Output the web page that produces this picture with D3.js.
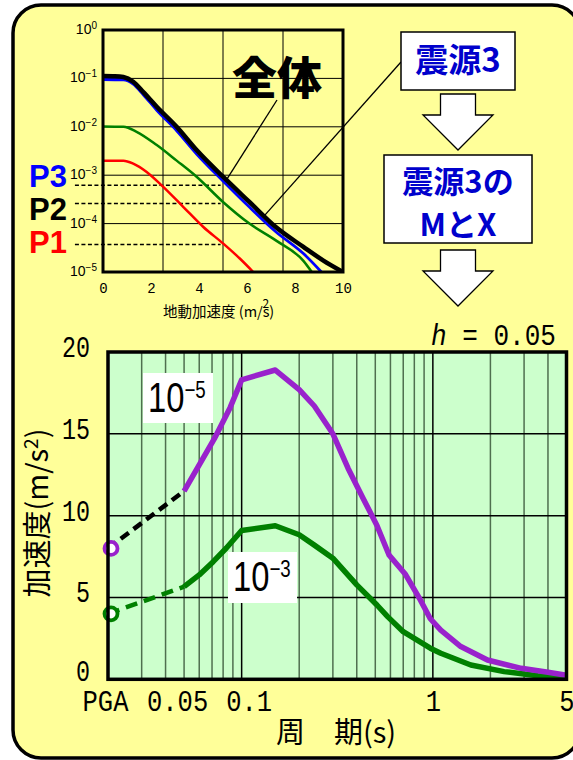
<!doctype html>
<html>
<head>
<meta charset="utf-8">
<style>
  body { margin: 0; background: #fff; }
  svg { display: block; }
  .mono { font-family: "Liberation Mono", "DejaVu Sans Mono", monospace; }
  .cjk { font-family: "Noto Sans CJK JP", sans-serif; }
  .arial { font-family: "Liberation Sans", Arial, sans-serif; }
</style>
<script src="https://cdn.jsdelivr.net/npm/d3@7"></script>
</head>
<body>
<script>
// ---- top chart: annual exceedance probability vs PGA (m/s2)
var totalPGA  = [0, 0.5, 0.85, 1.26, 1.68, 2.24, 3.07, 3.9, 5.0, 6.1, 7.2, 8.35, 9.2, 10.0];
var totalProb = [1.12e-1, 1.11e-1, 1.07e-1, 8.5e-2, 5.2e-2, 2.6e-2, 1.0e-2, 3.3e-3, 9.3e-4, 2.8e-4, 8.5e-5, 3.3e-5, 1.7e-5, 1.0e-5];
var src3PGA   = [0, 0.85, 1.26, 1.68, 2.24, 3.07, 3.9, 5.0, 6.1, 7.2, 8.35, 9.1];
var src3Prob  = [9.5e-2, 9.3e-2, 7.6e-2, 4.6e-2, 2.2e-2, 8.3e-3, 2.75e-3, 7.6e-4, 2.2e-4, 6.8e-5, 2.4e-5, 1.0e-5];
var greenPGA  = [0, 0.85, 1.4, 2.24, 3.07, 3.9, 5.0, 6.1, 7.2, 8.35, 8.7];
var greenProb = [1.02e-2, 1.0e-2, 7.9e-3, 4.2e-3, 2.0e-3, 9.3e-4, 2.8e-4, 1.0e-4, 4.5e-5, 1.7e-5, 1.0e-5];
var redPGA    = [0, 0.85, 1.26, 1.82, 2.5, 3.35, 4.18, 5.0, 5.7, 6.26];
var redProb   = [2.0e-3, 2.0e-3, 1.74e-3, 1.17e-3, 5.8e-4, 2.2e-4, 8.5e-5, 3.9e-5, 1.9e-5, 1.0e-5];
var levelNames = ["P3", "P2", "P1"];
var levelProb  = [6.2e-4, 2.6e-4, 3.7e-5];
var topXTicks = [0, 2, 4, 6, 8, 10];
var topYExp   = [0, -1, -2, -3, -4, -5];

// ---- bottom chart: response spectra, h = 0.05
var pgaPeriod = 0.02; // where PGA is drawn
var p5Period = [0.05, 0.06, 0.072, 0.087, 0.10, 0.15, 0.20, 0.24, 0.30, 0.36, 0.43, 0.51, 0.59, 0.72, 0.86, 0.97, 1.1, 1.4, 1.93, 2.9, 4.0, 5.0];
var p5Acc    = [11.5, 13.1, 14.7, 16.6, 18.3, 18.9, 17.7, 16.7, 15.0, 12.9, 11.1, 9.4, 7.6, 6.4, 4.85, 3.7, 3.0, 2.0, 1.18, 0.67, 0.43, 0.25];
var p5PGA = 8.0;
var p3Period = [0.05, 0.06, 0.071, 0.083, 0.10, 0.15, 0.20, 0.24, 0.30, 0.40, 0.51, 0.58, 0.70, 0.97, 1.1, 1.58, 2.36, 3.53, 5.0];
var p3Acc    = [5.66, 6.38, 7.19, 8.01, 9.09, 9.38, 8.83, 8.2, 7.4, 5.77, 4.54, 3.83, 2.91, 1.9, 1.59, 0.87, 0.47, 0.22, 0.12];
var p3PGA = 4.0;
var botXTicks  = [0.02, 0.05, 0.1, 1, 5];
var botXLabels = ["PGA", "0.05", "0.1", "1", "5"];
var botYTicks  = [0, 5, 10, 15, 20];
var minorPeriods = [0.03, 0.04, 0.05, 0.06, 0.07, 0.08, 0.09, 0.2, 0.3, 0.4, 0.5, 0.6, 0.7, 0.8, 0.9, 2, 3, 4];
var majorPeriods = [0.1, 1];

var zip = function(a, b) { return a.map(function(v, i) { return [v, b[i]]; }); };

var svg = d3.select("body").append("svg").attr("width", 573).attr("height", 760);

// panel
svg.append("rect").attr("x", 13).attr("y", 5).attr("width", 567).attr("height", 753)
  .attr("rx", 28).attr("fill", "#ffff99").attr("stroke", "#000").attr("stroke-width", 3.5);

// ================= top chart =================
var tx = d3.scaleLinear().domain([0, 10]).range([103, 343]);
var ty = d3.scaleLog().domain([1e-5, 1]).range([272, 30]);

svg.append("defs").append("clipPath").attr("id", "topclip")
  .append("rect").attr("x", 103).attr("y", 30).attr("width", 240).attr("height", 242);

var gTop = svg.append("g");
gTop.selectAll(".hg").data([1e-1, 1e-2, 1e-3, 1e-4]).enter().append("line")
  .attr("x1", tx(0)).attr("x2", tx(10)).attr("y1", ty).attr("y2", ty)
  .attr("stroke", "#000").attr("stroke-width", 1);
gTop.selectAll(".vg").data([2.5, 5, 7.5]).enter().append("line")
  .attr("x1", tx).attr("x2", tx).attr("y1", ty(1)).attr("y2", ty(1e-5))
  .attr("stroke", "#000").attr("stroke-width", 1);

// level lines P1..P3
gTop.selectAll(".lev").data(levelProb).enter().append("line")
  .attr("x1", tx(-1.17)).attr("x2", tx(4.9)).attr("y1", ty).attr("y2", ty)
  .attr("stroke", "#000").attr("stroke-width", 1.3).attr("stroke-dasharray", "4,2.5");

var topLine = d3.line().x(function(d) { return tx(d[0]); }).y(function(d) { return ty(d[1]); })
  .curve(d3.curveMonotoneX);
var curves = [
  { pts: zip(redPGA, redProb), color: "#ff0000", w: 2.5 },
  { pts: zip(greenPGA, greenProb), color: "#008000", w: 2.5 },
  { pts: zip(src3PGA, src3Prob), color: "#0000ff", w: 2.8 },
  { pts: zip(totalPGA, totalProb), color: "#000", w: 4.5 }
];
gTop.append("g").attr("clip-path", "url(#topclip)").selectAll("path").data(curves).enter().append("path")
  .attr("d", function(d) { return topLine(d.pts); })
  .attr("fill", "none").attr("stroke", function(d) { return d.color; })
  .attr("stroke-width", function(d) { return d.w; }).attr("stroke-linejoin", "round");

gTop.append("rect").attr("x", 103).attr("y", 30).attr("width", 240).attr("height", 242)
  .attr("fill", "none").attr("stroke", "#000").attr("stroke-width", 3);

// axes
var txAxis = gTop.append("g").attr("transform", "translate(0,272)")
  .call(d3.axisBottom(tx).tickValues(topXTicks).tickSize(0).tickPadding(11));
txAxis.select(".domain").remove();
txAxis.selectAll("text").attr("class", "mono").attr("font-size", 14).attr("fill", "#000");

var tyLab = gTop.selectAll(".ylab").data(topYExp).enter().append("text")
  .attr("class", "arial").attr("text-anchor", "end")
  .attr("x", 97).attr("y", function(e) { return ty(Math.pow(10, e)) + 4; })
  .attr("font-size", 14).attr("fill", "#000");
tyLab.append("tspan").text("10");
tyLab.append("tspan").attr("dy", -5).attr("font-size", 10)
  .text(function(e) { return e === 0 ? "0" : "\u2212" + (-e); });

var xt = gTop.append("text").attr("class", "cjk").attr("x", 163).attr("y", 317)
  .attr("font-size", 14.5).attr("fill", "#000");
xt.append("tspan").text("地動加速度 (m/s");
xt.append("tspan").attr("dx", -7).attr("dy", -9).attr("font-size", 12).text("2");
xt.append("tspan").attr("dy", 9).text(")");

// P labels
var pColors = ["#0000ff", "#000", "#ff0000"];
var pBase = [187, 220, 253];
gTop.selectAll(".plab").data(levelNames).enter().append("text")
  .attr("class", "arial").attr("x", 29).attr("y", function(d, i) { return pBase[i]; })
  .attr("font-size", 31).attr("font-weight", 700).attr("fill", function(d, i) { return pColors[i]; })
  .text(function(d) { return d; });

// "全体" annotation
gTop.append("text").attr("class", "cjk").attr("x", 277).attr("y", 95)
  .attr("text-anchor", "middle").attr("font-size", 45).attr("font-weight", 900).text("全体");
gTop.append("line").attr("x1", 277).attr("y1", 100).attr("x2", tx(5.17)).attr("y2", ty(8.4e-4))
  .attr("stroke", "#000").attr("stroke-width", 1.3);
gTop.append("line").attr("x1", 401).attr("y1", 62).attr("x2", tx(6.68)).attr("y2", ty(1.38e-4))
  .attr("stroke", "#000").attr("stroke-width", 1.3);

// ================= flow boxes =================
var blue = "#0000cc";
svg.append("rect").attr("x", 401).attr("y", 32).attr("width", 114).attr("height", 58)
  .attr("fill", "#fff").attr("stroke", "#000").attr("stroke-width", 1.5);
svg.append("text").attr("class", "cjk").attr("x", 458).attr("y", 72).attr("text-anchor", "middle")
  .attr("font-size", 33).attr("font-weight", 700).attr("fill", blue).text("震源3");

svg.append("rect").attr("x", 384).attr("y", 155).attr("width", 148).attr("height", 88)
  .attr("fill", "#fff").attr("stroke", "#000").attr("stroke-width", 1.5);
svg.append("text").attr("class", "cjk").attr("x", 458).attr("y", 193).attr("text-anchor", "middle")
  .attr("font-size", 31).attr("font-weight", 700).attr("fill", blue).text("震源3の");
svg.append("text").attr("class", "cjk").attr("x", 458).attr("y", 236).attr("text-anchor", "middle")
  .attr("font-size", 31).attr("font-weight", 700).attr("fill", blue).text("MとX");

function arrow(cx, top) {
  var p = [[cx - 17.5, top], [cx + 17.5, top], [cx + 17.5, top + 21], [cx + 35, top + 21],
           [cx, top + 56], [cx - 35, top + 21], [cx - 17.5, top + 21]];
  svg.append("polygon").attr("points", p.map(function(q) { return q.join(","); }).join(" "))
    .attr("fill", "#fff").attr("stroke", "#000").attr("stroke-width", 1.3);
}
arrow(458, 94);
arrow(458, 250);

// ================= bottom chart =================
var bx = d3.scaleLog().domain([0.02, 5]).range([108, 566.5]);
var by = d3.scaleLinear().domain([0, 20]).range([679.3, 352]);

var gB = svg.append("g");
gB.append("rect").attr("x", 108).attr("y", 352).attr("width", 458.5).attr("height", 327.3).attr("fill", "#ccffcc");
gB.selectAll(".mv").data(minorPeriods).enter().append("line")
  .attr("x1", bx).attr("x2", bx).attr("y1", by(20)).attr("y2", by(0))
  .attr("stroke", "#4f6f4f").attr("stroke-width", 1.5);
gB.selectAll(".Mv").data(majorPeriods).enter().append("line")
  .attr("x1", bx).attr("x2", bx).attr("y1", by(20)).attr("y2", by(0))
  .attr("stroke", "#000").attr("stroke-width", 1.5);
gB.selectAll(".hv").data([5, 10, 15]).enter().append("line")
  .attr("x1", bx(0.02)).attr("x2", bx(5)).attr("y1", by).attr("y2", by)
  .attr("stroke", "#000").attr("stroke-width", 1.5);

var bLine = d3.line().x(function(d) { return bx(d[0]); }).y(function(d) { return by(d[1]); });

// dashed PGA connections
gB.append("path").attr("d", bLine([[pgaPeriod, p5PGA], [p5Period[0], p5Acc[0]]]))
  .attr("stroke", "#000").attr("stroke-width", 4.5).attr("stroke-dasharray", "10,6").attr("fill", "none");
gB.append("path").attr("d", bLine([[pgaPeriod, p3PGA], [p3Period[0], p3Acc[0]]]))
  .attr("stroke", "#008000").attr("stroke-width", 4.5).attr("stroke-dasharray", "12,7").attr("fill", "none");

gB.append("path").attr("d", bLine(zip(p3Period, p3Acc)))
  .attr("stroke", "#008000").attr("stroke-width", 5.5).attr("fill", "none").attr("stroke-linejoin", "round");
gB.append("path").attr("d", bLine(zip(p5Period, p5Acc)))
  .attr("stroke", "#9922cc").attr("stroke-width", 5.5).attr("fill", "none").attr("stroke-linejoin", "round");

gB.selectAll(".pga").data([[p5PGA, "#9922cc"], [p3PGA, "#008000"]]).enter().append("circle")
  .attr("cx", bx(pgaPeriod) + 3).attr("cy", function(d) { return by(d[0]); }).attr("r", 6.5)
  .attr("fill", "#fff").attr("stroke", function(d) { return d[1]; }).attr("stroke-width", 3.8);

gB.append("rect").attr("x", 108).attr("y", 352).attr("width", 458.5).attr("height", 327.3)
  .attr("fill", "none").attr("stroke", "#000").attr("stroke-width", 3.5);

// probability labels (narrow face imitated by horizontal squeeze)
function probLabel(x, y, w, h, exp) {
  gB.append("rect").attr("x", x).attr("y", y).attr("width", w).attr("height", h).attr("fill", "#fff");
  var t = gB.append("text").attr("class", "arial")
    .attr("transform", "translate(" + (x + 5) + "," + (y + 39) + ") scale(0.78,1)")
    .attr("font-size", 42).attr("fill", "#000");
  t.append("tspan").text("10");
  t.append("tspan").attr("dy", -14).attr("font-size", 24).text("\u2212" + exp);
}
probLabel(143, 373, 70, 50, 5);
probLabel(228, 552, 69, 51, 3);

// axes
var byAxis = gB.append("g").attr("transform", "translate(108,0)")
  .call(d3.axisLeft(by).tickValues(botYTicks).tickSize(0).tickPadding(18));
byAxis.select(".domain").remove();
byAxis.selectAll("text").attr("class", "mono").attr("font-size", 29).attr("fill", "#000")
  .attr("dy", function(d) { return d === 0 ? "0.05em" : "0.15em"; })
  .attr("textLength", function(d) { return String(d).length * 14; }).attr("lengthAdjust", "spacingAndGlyphs");

var xLabShift = [-3, -7, 7, 0, 0];
var bxAxis = gB.append("g").attr("transform", "translate(0,679.3)")
  .call(d3.axisBottom(bx).tickValues(botXTicks).tickSize(0).tickPadding(10)
    .tickFormat(function(d, i) { return botXLabels[i]; }));
bxAxis.select(".domain").remove();
bxAxis.selectAll("text").attr("class", "mono").attr("font-size", 30).attr("fill", "#000")
  .attr("dx", function(d, i) { return xLabShift[i]; })
  .attr("textLength", function(d, i) { return botXLabels[i].length * 15.3; }).attr("lengthAdjust", "spacingAndGlyphs");

gB.append("text").attr("class", "cjk").attr("x", 276).attr("y", 743).attr("font-size", 29)
  .attr("fill", "#000").text("周\u3000期(s)");

var yt = gB.append("text").attr("class", "cjk")
  .attr("transform", "translate(48,513) rotate(-90)").attr("text-anchor", "middle")
  .attr("font-size", 29).attr("fill", "#000");
yt.append("tspan").text("加速度(m/s");
yt.append("tspan").attr("dy", -10).attr("font-size", 19).text("2");
yt.append("tspan").attr("dy", 10).text(")");

var ht = gB.append("text").attr("class", "mono").attr("x", 431).attr("y", 345).attr("font-size", 29)
  .attr("fill", "#000").attr("textLength", 125).attr("lengthAdjust", "spacingAndGlyphs");
ht.append("tspan").attr("font-style", "italic").text("h");
ht.append("tspan").text(" = 0.05");
</script>
</body>
</html>
